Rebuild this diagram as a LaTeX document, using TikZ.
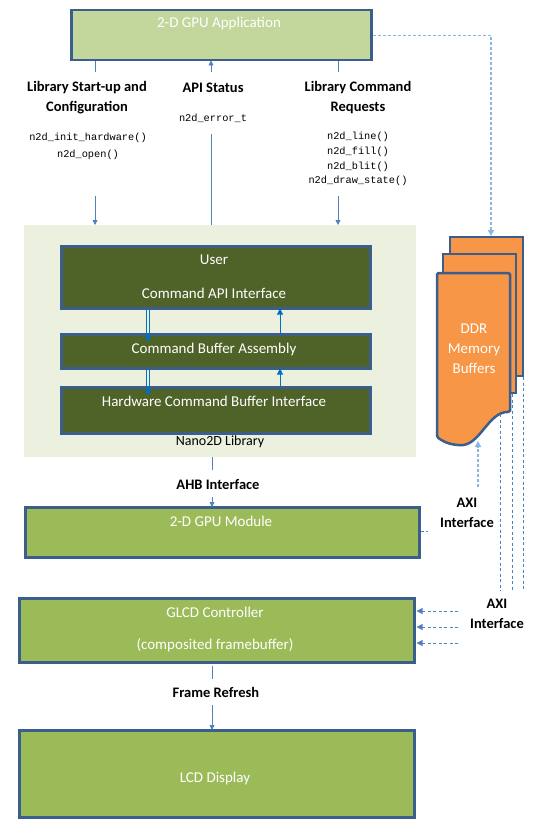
\documentclass[tikz,border=0pt]{standalone}
\usepackage{fontspec}
\setmainfont{Carlito}
\newfontfamily\codefont{Liberation Mono}
\usetikzlibrary{arrows.meta}
\definecolor{bord}{HTML}{3B5E8C}
\definecolor{appfill}{HTML}{C3D69B}
\definecolor{modfill}{HTML}{9BBB59}
\definecolor{libbg}{HTML}{EBF1DE}
\definecolor{libbox}{HTML}{4F6228}
\definecolor{ddr}{HTML}{F79646}
\definecolor{conn}{HTML}{4F81BD}
\definecolor{lightconn}{HTML}{8EB4E3}
\definecolor{libarr}{HTML}{0070C0}
\tikzset{
  box/.style={draw=bord, line width=2.5pt, inner sep=0pt, anchor=north west},
  wt/.style={text=white, font=\fontsize{15}{17}\selectfont, inner sep=0pt},
  lbl/.style={font=\bfseries\fontsize{14.5}{20}\selectfont, align=center, inner sep=0pt},
  codel/.style={font=\codefont\fontsize{10.3}{17}\selectfont, align=center, inner sep=0pt},
  coder/.style={font=\codefont\fontsize{10.3}{14.7}\selectfont, align=center, inner sep=0pt},
  conn/.style={draw=conn, line width=0.8pt},
  arr/.style={conn, -{Triangle[width=5pt,length=5pt]}},
  dashc/.style={draw=conn, line width=0.8pt, dash pattern=on 3pt off 2.5pt},
  dasharr/.style={dashc, -{Triangle[width=6pt,length=6pt]}},
  ldash/.style={draw=lightconn, line width=1.4pt, dash pattern=on 3pt off 2pt, -{Triangle[width=6pt,length=6pt]}},
  libarrow/.style={draw=libarr, line width=1pt, -{Triangle[width=6pt,length=6pt]}},
}
\begin{document}
\begin{tikzpicture}[x=1pt,y=-1pt]
\useasboundingbox (0,0) rectangle (539,821);

% application
\node[box, fill=appfill, minimum width=300, minimum height=50] (app) at (70,9) {};
\node[wt] (apptxt) at (219,24) {2-D GPU Application};

% labels
\node[lbl] (lbl1) at (87,98) {Library Start-up and\\Configuration};
\node[codel] (code1) at (88,146) {n2d\_init\_hardware()\\n2d\_open()};
\node[lbl] (lbl2) at (213,88) {API Status};
\node[coder] (code2) at (213,118) {n2d\_error\_t};
\node[lbl] (lbl3) at (358,98) {Library Command\\Requests};
\node[coder] (code3) at (358,159) {n2d\_line()\\n2d\_fill()\\n2d\_blit()\\n2d\_draw\_state()};

% library background
\node[fill=libbg, inner sep=0pt, anchor=north west, minimum width=392, minimum height=232] (lib) at (24,225) {};
\node[font=\fontsize{14}{16}\selectfont, inner sep=0pt] (libtxt) at (220,442) {Nano2D Library};

\node[box, fill=libbox, minimum width=309, minimum height=62] (user) at (60,245) {};
\node[wt] (usertxt1) at (214,260) {User};
\node[wt] (usertxt2) at (214,293) {Command API Interface};
\node[box, fill=libbox, minimum width=309, minimum height=34] (cba) at (60,333) {};
\node[wt] (cbatxt) at (214,349) {Command Buffer Assembly};
\node[box, fill=libbox, minimum width=309, minimum height=46] (hcbi) at (60,386) {};
\node[wt] (hcbitxt) at (214,401) {Hardware Command Buffer Interface};

% connectors top
\coordinate (s1a) at (95,72);
\coordinate (s1b) at (95,196);
\draw[conn] (s1a |- app.south) -- (s1a);
\draw[arr] (s1b) -- (s1b |- lib.north);
\coordinate (apia) at (211,72);
\coordinate (apib) at (211,134);
\draw[arr] (apia) -- ([yshift=1pt]apia |- app.south);
\draw[conn] (apib) -- (apib |- lib.north);
\coordinate (s3a) at (338,72);
\coordinate (s3b) at (338,196);
\draw[conn] (s3a |- app.south) -- (s3a);
\draw[arr] (s3b) -- (s3b |- lib.north);

% library internal arrows
\coordinate (dn) at (148,0);
\coordinate (up) at (280,0);
\draw[draw=libarr, line width=0.8pt] ([xshift=-1.7pt]dn |- user.south) -- ([xshift=-1.7pt,yshift=-5pt]dn |- cba.north);
\draw[draw=libarr, line width=0.8pt] ([xshift=1.7pt]dn |- user.south) -- ([xshift=1.7pt,yshift=-5pt]dn |- cba.north);
\draw[libarrow] ([yshift=-6pt]dn |- cba.north) -- ([yshift=-1pt]dn |- cba.north);
\draw[libarrow] ([yshift=-1pt]up |- cba.north) -- ([yshift=1pt]up |- user.south);
\draw[draw=libarr, line width=0.8pt] ([xshift=-1.7pt]dn |- cba.south) -- ([xshift=-1.7pt,yshift=-5pt]dn |- hcbi.north);
\draw[draw=libarr, line width=0.8pt] ([xshift=1.7pt]dn |- cba.south) -- ([xshift=1.7pt,yshift=-5pt]dn |- hcbi.north);
\draw[libarrow] ([yshift=-6pt]dn |- hcbi.north) -- ([yshift=-1pt]dn |- hcbi.north);
\draw[libarrow] ([yshift=-1pt]up |- hcbi.north) -- ([yshift=1pt]up |- cba.south);

% DDR memory buffers
\draw[draw=bord, line width=2.5pt, fill=ddr] (450,237) rectangle (523,376);
\draw[draw=bord, line width=2.5pt, fill=ddr] (443,254) rectangle (516,393);
\draw[draw=bord, line width=2.5pt, fill=ddr, rounded corners=1.5pt] (437,273) -- (510,273) -- (510,412)
  .. controls (488,411) and (480,447) .. (458,445)
  .. controls (447,444) and (441,440) .. (437,437) -- cycle;
\node[wt, align=center, font=\fontsize{15}{20}\selectfont] (ddrtxt) at (474,349) {DDR\\Memory\\Buffers};
\coordinate (ddrtop) at (491,236);
\coordinate (ddrbot) at (478,441);

\draw[ldash] (app.east) -| (ddrtop);

% AXI
\coordinate (axia) at (478,487);
\draw[ldash] (axia) -- (ddrbot);
\node[lbl] (axi1) at (467,513) {AXI\\Interface};

\coordinate (d1) at (500,414);
\coordinate (d2) at (512,394);
\coordinate (d3) at (523,377);
\draw[dashc] (d1) -- (500,591);
\draw[dashc] (d2) -- (512,591);
\draw[dashc] (d3) -- (523,591);

% GPU module
\node[box, fill=modfill, minimum width=394, minimum height=50] (gpu) at (24,506) {};
\node[wt] (gputxt) at (221,521) {2-D GPU Module};
\coordinate (gpux) at (428,531);
\draw[dashc] (gpu.east |- gpux) -- (gpux);

% AHB
\coordinate (ahba) at (212,470);
\coordinate (ahbb) at (212,497);
\draw[conn] (ahba |- lib.south) -- (ahba);
\node[lbl] (ahbtxt) at (218,485) {AHB Interface};
\draw[arr] (ahbb) -- ([yshift=-1pt]ahbb |- gpu.north);

% GLCD
\node[box, fill=modfill, minimum width=395, minimum height=64] (glcd) at (18,597) {};
\node[wt] (glcdtxt1) at (215,612) {GLCD Controller};
\node[wt] (glcdtxt2) at (215,645) {(composited framebuffer)};
\node[lbl] (axi2) at (497,614) {AXI\\Interface};
\coordinate (g1) at (458,611);
\coordinate (g2) at (458,627);
\coordinate (g3) at (458,643);
\draw[dasharr] (g1) -- ([xshift=1pt]g1 -| glcd.east);
\draw[dasharr] (g2) -- ([xshift=1pt]g2 -| glcd.east);
\draw[dasharr] (g3) -- ([xshift=1pt]g3 -| glcd.east);

% frame refresh
\coordinate (fra) at (212,666);
\coordinate (frb) at (212,679);
\coordinate (frc) at (212,705);
\draw[conn] (fra) -- (frb);
\node[lbl] (frtxt) at (216,692) {Frame Refresh};

% LCD
\node[box, fill=modfill, minimum width=395, minimum height=87] (lcd) at (18,729) {};
\node[wt] (lcdtxt) at (215,778) {LCD Display};
\draw[arr] (frc) -- ([yshift=-1pt]frc |- lcd.north);
\end{tikzpicture}
\end{document}
